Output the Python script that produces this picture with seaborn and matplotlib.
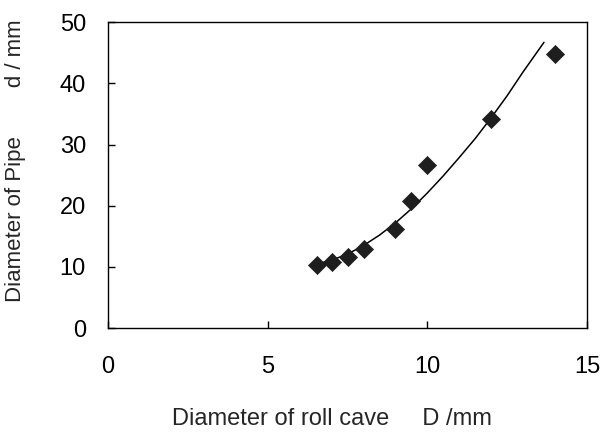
import numpy as np
import pandas as pd
import matplotlib
matplotlib.use('Agg')
import matplotlib.pyplot as plt
import seaborn as sns

# measured points
roll_cave_d = [6.55, 7.0, 7.5, 8.0, 9.0, 9.5, 10.0, 12.0, 14.0]
pipe_d = [10.3, 10.8, 11.6, 13.0, 16.2, 20.7, 26.6, 34.1, 44.8]

# trend curve
curve_x = [6.5, 7.0, 7.5, 8.0, 8.5, 9.0, 9.5, 10.0, 10.5, 11.0, 11.5, 12.0, 12.5, 13.0, 13.65]
curve_y = [10.4, 11.1, 12.1, 13.5, 15.2, 17.2, 19.5, 22.1, 24.9, 27.9, 31.0, 34.4, 38.0, 41.9, 46.7]

x_ticks = [0, 5, 10, 15]
y_ticks = [0, 10, 20, 30, 40, 50]

sns.set_style('ticks')
plt.rcParams['font.family'] = ['Liberation Sans', 'DejaVu Sans']

fig = plt.figure(figsize=(6.04, 4.34), dpi=100)
ax = fig.add_axes([0.179, 0.244, 0.793, 0.705])

pts = pd.DataFrame({'D': roll_cave_d, 'd': pipe_d})
fit = pd.DataFrame({'D': curve_x, 'd': curve_y})

sns.lineplot(data=fit, x='D', y='d', ax=ax, color='black', lw=1.1,
             sort=False, estimator=None)
sns.scatterplot(data=pts, x='D', y='d', ax=ax, marker='D', s=85,
                color='#1e1e1e', edgecolor='#1e1e1e', linewidth=0.5, zorder=3)

ax.set_xlim(0, 15)
ax.set_ylim(0, 50)
ax.set_xticks(x_ticks)
ax.set_yticks(y_ticks)
ax.tick_params(axis='x', direction='in', length=5, width=1, pad=20, labelsize=17, colors='black')
ax.tick_params(axis='y', direction='in', length=5, width=1, pad=16, labelsize=17, colors='black')
for s in ax.spines.values():
    s.set_color('black')
    s.set_linewidth(1)

ax.set_xlabel('Diameter of roll cave     D /mm', fontsize=17)
ax.set_ylabel('Diameter of Pipe        d / mm', fontsize=16)
ax.xaxis.set_label_coords(0.468, -0.26)
ax.yaxis.set_label_coords(-0.171, 0.546)

fig.savefig('out.png', dpi=100)
